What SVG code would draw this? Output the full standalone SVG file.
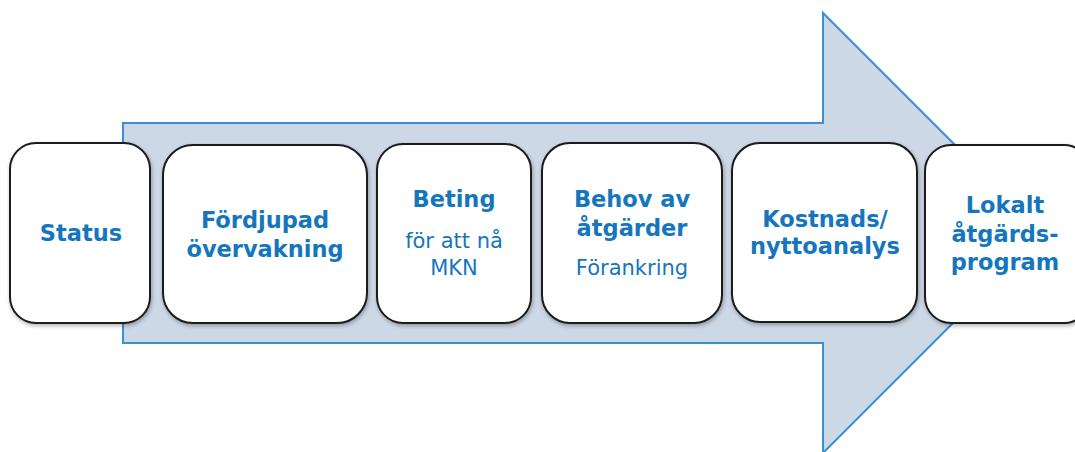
<svg xmlns="http://www.w3.org/2000/svg" width="1075" height="452" viewBox="0 0 1075 452">
<defs>
<filter id="sh" x="-10%" y="-10%" width="130%" height="130%">
<feGaussianBlur in="SourceAlpha" stdDeviation="2"/>
<feOffset dx="1" dy="2"/>
<feComponentTransfer><feFuncA type="linear" slope="0.3"/></feComponentTransfer>
<feMerge><feMergeNode/><feMergeNode in="SourceGraphic"/></feMerge>
</filter>
</defs>
<style>
.box{fill:#ffffff;stroke:#1a1a1a;stroke-width:2;filter:url(#sh)}
.b{font-family:"DejaVu Sans",sans-serif;font-weight:bold;font-size:22.5px;fill:#1576bd;text-anchor:middle}
.r{font-family:"DejaVu Sans",sans-serif;font-size:21px;fill:#1576bd;text-anchor:middle}
</style>
<rect width="1075" height="452" fill="#ffffff"/>
<g id="arrow">
<polygon points="123,123 823,123 823,13 1043,233 823,453 823,343 123,343" fill="#cdd8e6" stroke="#3b8fd3" stroke-width="2"/>
</g>
<g id="connectors"></g>
<g id="n1"><rect class="box" x="10" y="143" width="140" height="180" rx="26"/><text class="b" x="81" y="241">Status</text></g>
<g id="n2"><rect class="box" x="163" y="145" width="204" height="178" rx="30"/><text class="b" x="265" y="228">Fördjupad</text><text class="b" x="265" y="257">övervakning</text></g>
<g id="n3"><rect class="box" x="377" y="144" width="154" height="179" rx="26"/><text class="b" x="454" y="207">Beting</text><text class="r" x="454" y="248">för att nå</text><text class="r" x="454" y="275">MKN</text></g>
<g id="n4"><rect class="box" x="542" y="143" width="180" height="180" rx="28"/><text class="b" x="632" y="207">Behov av</text><text class="b" x="632" y="236">åtgärder</text><text class="r" x="632" y="275">Förankring</text></g>
<g id="n5"><rect class="box" x="732" y="143" width="185" height="179" rx="28"/><text class="b" x="825" y="227">Kostnads/</text><text class="b" x="825" y="254">nyttoanalys</text></g>
<g id="n6"><rect class="box" x="925" y="145" width="165" height="178" rx="26"/><text class="b" x="1005" y="213">Lokalt</text><text class="b" x="1005" y="242">åtgärds-</text><text class="b" x="1005" y="270">program</text></g>
</svg>
